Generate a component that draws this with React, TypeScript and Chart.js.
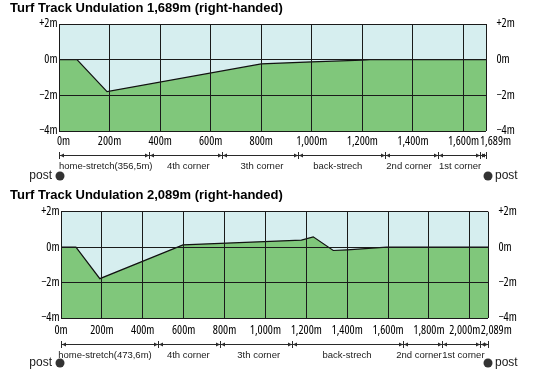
import React, { useEffect, useRef } from 'react';
import { Chart, registerables } from 'chart.js';

Chart.register(...registerables);

// ---------- data: course 1 ----------
const title1 = 'Turf Track Undulation 1,689m (right-handed)';
const distance1 = 1689;
const xTicks1 = [0, 200, 400, 600, 800, 1000, 1200, 1400, 1600, 1689];
const profileX1 = [0, 71, 190, 800, 1000, 1200, 1230, 1689];
const profileY1 = [0, 0, -1.79, -0.24, -0.12, -0.03, 0, 0];
const sectionEnds1 = [0, 356.5, 645, 947, 1290, 1498, 1665, 1689];
const sectionLabels1 = ['home-stretch(356,5m)', '4th corner', '3th corner', 'back-strech', '2nd corner', '1st corner', ''];

// ---------- data: course 2 ----------
const title2 = 'Turf Track Undulation 2,089m (right-handed)';
const distance2 = 2089;
const xTicks2 = [0, 200, 400, 600, 800, 1000, 1200, 1400, 1600, 1800, 2000, 2089];
const profileX2 = [0, 73, 190, 597, 1176, 1234, 1332, 1400, 1593, 2089];
const profileY2 = [0, 0, -1.78, 0.13, 0.4, 0.58, -0.19, -0.15, 0, 0];
const sectionEnds2 = [0, 473.6, 777, 1128, 1671, 1866, 2049, 2089];
const sectionLabels2 = ['home-stretch(473,6m)', '4th corner', '3th corner', 'back-strech', '2nd corner', '1st corner', ''];

const yTicks = [-4, -2, 0, 2];
const postLabel = 'post';

// ---------- styles ----------
const SKY = '#d6eeef';
const GROUND = '#80c77b';
const GRID = '#1a1a1a';
const DIM = '#2a2a2a';
const TITLE_FONT = '"Liberation Sans", Arial, sans-serif';
const TICK_FONT = '"Open Sans", "Roboto Condensed", sans-serif';
const LABEL_FONT = '"Liberation Sans", Arial, sans-serif';

const fmtX = (v: number) => Number(v).toLocaleString('en-US') + 'm';
const fmtY = (v: number) => (v > 0 ? '+' + v + 'm' : v < 0 ? '\u2212' + Math.abs(v) + 'm' : '0m');

type Cfg = {
  title: string; distance: number; xTicks: number[]; xs: number[]; ys: number[];
  sections: number[]; sectionLabels: string[]; labelDx: number[];
  height: number; top: number; padLeft: number; yLeftWidth: number; yRightWidth: number;
  titlePadBottom: number; xAxisHeight: number; xTickPad: number;
  dimY: number; labelY: number; postY: number; postLeftDx: number; postRightDx: number;
  labelShift: Record<number, number>;
};

const cfg1: Cfg = {
  title: title1, distance: distance1, xTicks: xTicks1, xs: profileX1, ys: profileY1,
  sections: sectionEnds1, sectionLabels: sectionLabels1, labelDx: [1.7, 2.7, 1.7, -4, -2.4, 1.2, 0],
  height: 187, top: 0, padLeft: 10, yLeftWidth: 49, yRightWidth: 64,
  titlePadBottom: 7.4, xAxisHeight: 56, xTickPad: 3,
  dimY: 24, labelY: 35, postY: 45, postLeftDx: 1, postRightDx: 2,
  labelShift: { 0: 4.5, 9: 9.5 },
};

const cfg2: Cfg = {
  title: title2, distance: distance2, xTicks: xTicks2, xs: profileX2, ys: profileY2,
  sections: sectionEnds2, sectionLabels: sectionLabels2, labelDx: [-4.4, -0.5, 3, 0, -3.5, 2.3, 0],
  height: 184, top: 187, padLeft: 10, yLeftWidth: 51, yRightWidth: 62,
  titlePadBottom: 8.1, xAxisHeight: 53, xTickPad: 5.5,
  dimY: 26, labelY: 37, postY: 45, postLeftDx: -1, postRightDx: 0,
  labelShift: { 10: -5, 11: 8.2 },
};

function makeChart(canvas: HTMLCanvasElement, cfg: Cfg) {
  const bgPlugin = {
    id: 'skyBg',
    beforeDatasetsDraw(chart: any) {
      const { ctx, chartArea: a } = chart;
      ctx.save();
      ctx.fillStyle = SKY;
      ctx.fillRect(a.left, a.top, a.right - a.left, a.bottom - a.top);
      ctx.restore();
    },
  };

  const shiftPlugin = {
    id: 'labelShift',
    beforeDraw(chart: any) {
      const sc = chart.scales.x;
      const items = sc.getLabelItems(chart.chartArea);
      if (!items || (items as any)._shifted) return;
      Object.keys(cfg.labelShift).forEach((k) => {
        const it = items[Number(k)];
        if (it) it.options.translation[0] += cfg.labelShift[Number(k)];
      });
      (items as any)._shifted = true;
    },
  };

  const annoPlugin = {
    id: 'sections',
    afterDraw(chart: any) {
      const { ctx, chartArea } = chart;
      const xs = chart.scales.x;
      const px = cfg.sections.map((v) => xs.getPixelForValue(v));
      const y = Math.round(chartArea.bottom + cfg.dimY) + 0.5;
      ctx.save();
      ctx.strokeStyle = DIM;
      ctx.fillStyle = DIM;
      ctx.lineWidth = 1;
      ctx.beginPath();
      ctx.moveTo(px[0], y);
      ctx.lineTo(px[px.length - 1], y);
      px.forEach((p) => {
        const xx = Math.round(p) + 0.5;
        ctx.moveTo(xx, y - 3.5);
        ctx.lineTo(xx, y + 3.5);
      });
      ctx.stroke();
      for (let i = 0; i < px.length - 1; i++) {
        const a = Math.round(px[i]) + 0.5;
        const b = Math.round(px[i + 1]) + 0.5;
        ctx.beginPath();
        ctx.moveTo(a + 0.5, y);
        ctx.lineTo(a + 4.5, y - 2);
        ctx.lineTo(a + 4.5, y + 2);
        ctx.closePath();
        ctx.fill();
        ctx.beginPath();
        ctx.moveTo(b - 0.5, y);
        ctx.lineTo(b - 4.5, y - 2);
        ctx.lineTo(b - 4.5, y + 2);
        ctx.closePath();
        ctx.fill();
      }
      ctx.fillStyle = '#1a1a1a';
      ctx.font = '9.5px ' + LABEL_FONT;
      ctx.textAlign = 'center';
      ctx.textBaseline = 'middle';
      const ly = chartArea.bottom + cfg.labelY;
      for (let i = 0; i < px.length - 1; i++) {
        const t = cfg.sectionLabels[i];
        if (t) ctx.fillText(t, (px[i] + px[i + 1]) / 2 + (cfg.labelDx[i] || 0), ly);
      }
      // post markers
      const py = chartArea.bottom + cfg.postY;
      const lx = px[0] + cfg.postLeftDx;
      const rx = px[px.length - 1] + cfg.postRightDx;
      ctx.fillStyle = '#333';
      ctx.beginPath();
      ctx.arc(lx, py, 4.5, 0, Math.PI * 2);
      ctx.fill();
      ctx.beginPath();
      ctx.arc(rx, py, 4.5, 0, Math.PI * 2);
      ctx.fill();
      ctx.fillStyle = '#1a1a1a';
      ctx.font = '12px ' + LABEL_FONT;
      ctx.textAlign = 'right';
      ctx.fillText(postLabel, lx - 8, py);
      ctx.textAlign = 'left';
      ctx.fillText(postLabel, rx + 7, py);
      ctx.restore();
    },
  };

  // 'condensed' goes into the canvas font shorthand as font-stretch
  const tickFont = { family: TICK_FONT, size: 12, weight: 'condensed', lineHeight: 1.2 };
  const data = cfg.xs.map((x, i) => ({ x, y: cfg.ys[i] }));

  return new Chart(canvas, {
    type: 'line',
    data: {
      datasets: [
        {
          data,
          borderColor: '#111',
          borderWidth: 1.2,
          backgroundColor: GROUND,
          fill: 'start',
          pointRadius: 0,
          tension: 0,
        },
      ],
    },
    options: {
      responsive: false,
      animation: false,
      layout: { padding: { left: cfg.padLeft, right: 0, top: 0, bottom: 0 } },
      plugins: {
        legend: { display: false },
        tooltip: { enabled: false },
        title: {
          display: true,
          text: cfg.title,
          align: 'start',
          color: '#000',
          font: { family: TITLE_FONT, size: 13, weight: 'bold', lineHeight: 1.2 },
          padding: { top: 1, bottom: cfg.titlePadBottom },
        },
      },
      scales: {
        x: {
          type: 'linear',
          min: 0,
          max: cfg.distance,
          afterBuildTicks: (s: any) => {
            s.ticks = cfg.xTicks.map((v) => ({ value: v }));
          },
          afterFit: (s: any) => {
            s.height = cfg.xAxisHeight;
          },
          grid: { color: GRID, lineWidth: 1, drawTicks: false, z: 1 },
          border: { display: false },
          ticks: {
            autoSkip: false,
            maxRotation: 0,
            minRotation: 0,
            padding: cfg.xTickPad,
            color: '#000',
            font: tickFont,
            callback: (v: any) => fmtX(v),
          },
        },
        y: {
          position: 'left',
          min: -4,
          max: 2,
          afterBuildTicks: (s: any) => {
            s.ticks = yTicks.map((v) => ({ value: v }));
          },
          afterFit: (s: any) => {
            s.width = cfg.yLeftWidth;
          },
          grid: { color: GRID, lineWidth: 1, drawTicks: false, z: 1 },
          border: { display: false },
          ticks: { padding: 1.5, color: '#000', font: tickFont, callback: (v: any) => fmtY(v) },
        },
        y2: {
          position: 'right',
          min: -4,
          max: 2,
          afterBuildTicks: (s: any) => {
            s.ticks = yTicks.map((v) => ({ value: v }));
          },
          afterFit: (s: any) => {
            s.width = cfg.yRightWidth;
          },
          grid: { display: false },
          border: { display: false },
          ticks: { padding: 2.5, color: '#000', font: tickFont, callback: (v: any) => fmtY(v) },
        },
      },
    } as any,
    plugins: [bgPlugin, shiftPlugin, annoPlugin],
  } as any);
}

function Course({ cfg }: { cfg: Cfg }) {
  const ref = useRef<HTMLCanvasElement>(null);
  useEffect(() => {
    if (!ref.current) return;
    const chart = makeChart(ref.current, cfg);
    return () => chart.destroy();
  }, [cfg]);
  return (
    <canvas
      ref={ref}
      width={550}
      height={cfg.height}
      style={{ position: 'absolute', left: 0, top: cfg.top, width: 550, height: cfg.height }}
    />
  );
}

export default function App() {
  return (
    <div style={{ position: 'absolute', left: 0, top: 0, width: 550, height: 371, background: '#fff' }}>
      <Course cfg={cfg1} />
      <Course cfg={cfg2} />
    </div>
  );
}
